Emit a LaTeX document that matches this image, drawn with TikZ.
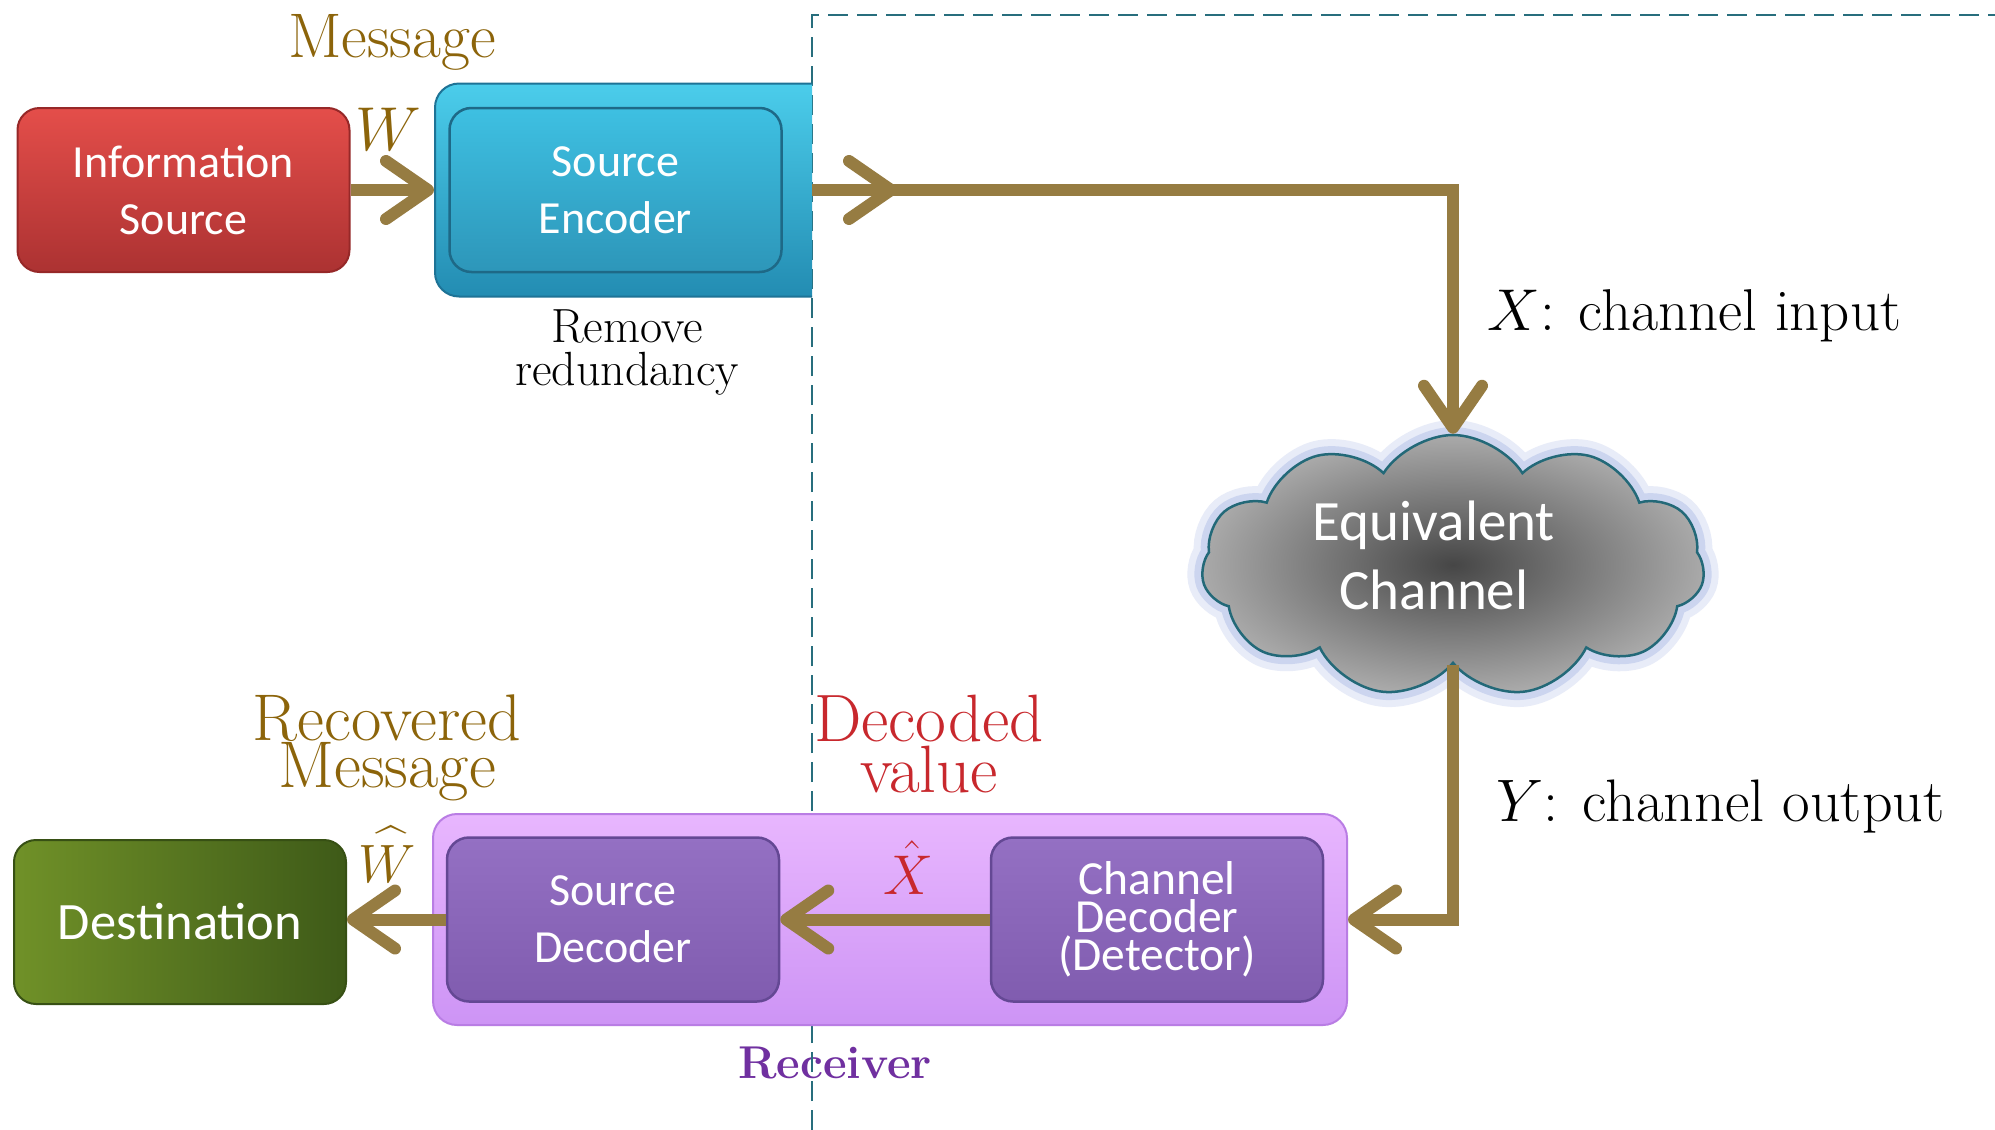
\RequirePackage{fix-cm}
\documentclass[tikz,border=0pt]{standalone}
\usepackage{exscale}
\usepackage{graphicx}
\usepackage{fontspec}
\newfontfamily\boxfont{Carlito}
\usetikzlibrary{arrows.meta,shapes.symbols}
\newcommand\WideHatW{\ooalign{$W$\cr\hidewidth\kern0.16em\scalebox{2.4}[1.1]{$\hat{\vphantom{W}}$}\hidewidth\cr}}
\definecolor{arrowc}{RGB}{150,124,66}
\definecolor{msgc}{RGB}{140,100,10}
\definecolor{redtxt}{RGB}{200,40,45}
\definecolor{purtxt}{RGB}{112,48,160}
\definecolor{dashc}{RGB}{40,110,125}
\definecolor{redtop}{RGB}{228,78,74}
\definecolor{redbot}{RGB}{172,50,50}
\definecolor{redbrd}{RGB}{150,40,40}
\definecolor{cyantop}{RGB}{75,205,235}
\definecolor{cyanbot}{RGB}{35,140,178}
\definecolor{cyanbrd}{RGB}{30,115,150}
\definecolor{cyintop}{RGB}{62,192,226}
\definecolor{cyinbot}{RGB}{45,150,185}
\definecolor{cyinbrd}{RGB}{30,105,135}
\definecolor{pkouttop}{RGB}{232,182,254}
\definecolor{pkoutbot}{RGB}{205,148,245}
\definecolor{pkoutbrd}{RGB}{185,125,228}
\definecolor{pintop}{RGB}{148,112,195}
\definecolor{pinbot}{RGB}{128,92,175}
\definecolor{pinbrd}{RGB}{100,72,148}
\definecolor{grnl}{RGB}{112,145,40}
\definecolor{grnr}{RGB}{62,90,24}
\definecolor{grnbrd}{RGB}{55,80,20}
\definecolor{cloudin}{RGB}{70,70,70}
\definecolor{cloudout}{RGB}{170,170,170}
\definecolor{cloudbrd}{RGB}{35,105,120}
\definecolor{glowc}{RGB}{140,160,220}
\tikzset{
  box/.style={rounded corners=22pt, minimum width=332pt, minimum height=164pt,
    inner sep=0pt, line width=2pt, text=white, align=center,
    font=\boxfont\fontsize{46}{57}\selectfont},
  redbox/.style={box, top color=redtop, bottom color=redbot, draw=redbrd},
  cyinbox/.style={box, top color=cyintop, bottom color=cyinbot, draw=cyinbrd, line width=2.5pt},
  purinbox/.style={box, top color=pintop, bottom color=pinbot, draw=pinbrd, line width=2.5pt},
  grnbox/.style={box, left color=grnl, right color=grnr, draw=grnbrd},
  flow/.style={draw=arrowc, line width=12pt, -{Straight Barb[length=42pt,width=58pt,round]}},
  dashline/.style={draw=dashc, line width=2.5pt, dash pattern=on 20pt off 9pt},
}
\begin{document}
\begin{tikzpicture}[x=1pt,y=-1pt]
\path[use as bounding box, fill=white] (0,0) rectangle (1995,1130);

% receiver label (under the dashed line)
\node[anchor=base, font=\bfseries\fontsize{46}{46}\selectfont, text=purtxt] (rxlab) at (835,1078) {Receiver};

% dashed boundary
\draw[dashline] (812,1130) -- (812,15) -- (1995,15);

% transmitter side
\node[redbox] (info) at (183.5,190) {Information\\Source};
\begin{scope}
  \clip (0,0) rectangle (812,1130);
  \node[rounded corners=24pt, minimum width=405pt, minimum height=213pt, inner sep=0pt,
        top color=cyantop, bottom color=cyanbot, draw=cyanbrd, line width=2pt] (encout) at (637.5,190) {};
\end{scope}
\node[cyinbox] (encin) at (615.5,190) {Source\\Encoder};

\node[anchor=base, font=\fontsize{63}{63}\selectfont, text=msgc] (msg) at (392,57) {Message};
\node[anchor=base, font=\fontsize{62}{62}\selectfont, text=msgc] (wlab) at (388,150) {$W$};
\node[font=\fontsize{48}{43}\selectfont, align=center] (remlab) at (627,352) {Remove\\redundancy};

% channel
\node[cloud, cloud puffs=11, cloud puff arc=115, aspect=1.9,
      minimum width=503pt, minimum height=262pt, inner sep=0pt,
      draw=cloudbrd, line width=2.5pt, shading=radial, inner color=cloudin, outer color=cloudout,
      preaction={draw=glowc, draw opacity=.2, line width=30pt},
      preaction={draw=glowc, draw opacity=.3, line width=16pt}] (chan) at (1453,566) {};
\node[font=\boxfont\fontsize{57}{69}\selectfont, text=white, align=center] (chantxt) at (1434,555) {Equivalent\\Channel};

\node[anchor=base west, font=\fontsize{59}{59}\selectfont] (xlab) at (1484,330) {$X$: channel input};
\node[anchor=base west, font=\fontsize{60}{60}\selectfont] (ylab) at (1493,821) {$Y$: channel output};

% receiver side
\node[rounded corners=24pt, minimum width=914pt, minimum height=211pt, inner sep=0pt,
      top color=pkouttop, bottom color=pkoutbot, draw=pkoutbrd, line width=2pt] (recv) at (890,919.5) {};
\node[purinbox] (srcdec) at (613,919.5) {Source\\Decoder};
\node[purinbox, font=\boxfont\fontsize{47.5}{38}\selectfont] (chdec) at (1157,919.5) {Channel\\Decoder\\(Detector)};
\node[grnbox, font=\boxfont\fontsize{52.5}{57}\selectfont] (dest) at (180,922) {Destination};

\node[font=\fontsize{66}{46}\selectfont, align=center, text=msgc] (reclab) at (387,748) {Recovered\\Message};
\node[font=\fontsize{67}{51}\selectfont, align=center, text=redtxt] (declab) at (929,744) {Decoded\\value};
\node[anchor=base, font=\fontsize{54}{54}\selectfont, text=msgc] (whatlab) at (387,882) {\WideHatW};
\node[anchor=base, font=\fontsize{56}{56}\selectfont, text=redtxt] (xhatlab) at (908,894) {$\hat{X}$};

% connectors
\coordinate (cut) at (812,190);
\coordinate (midtip) at (897,190);
\draw[flow] (info.east) -- (encout.west);
\draw[flow] (cut) -- (midtip);
\draw[flow] (cut) -| (chan.north);
\draw[flow] (chan.south) |- (recv.east);
\draw[flow] (chdec.west) -- (srcdec.east);
\draw[flow] (srcdec.west) -- (srcdec.west -| dest.east);
\end{tikzpicture}
\end{document}
